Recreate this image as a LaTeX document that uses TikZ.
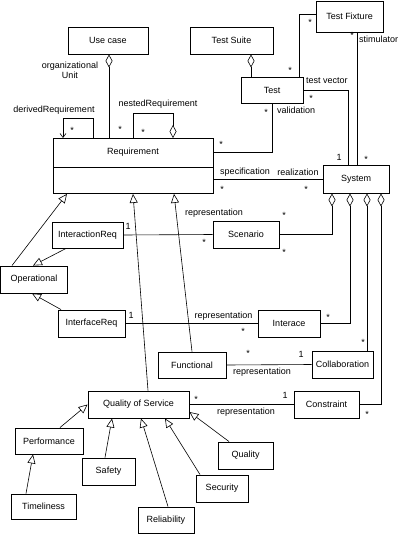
\documentclass[tikz,border=0pt]{standalone}
\usepackage{fontspec}
\setmainfont{Liberation Sans}
\usetikzlibrary{arrows.meta}
\tikzset{
  box/.style={draw, line width=0.9pt, inner sep=0pt, font=\fontsize{9}{10}\selectfont},
  lbl/.style={inner sep=0pt, font=\fontsize{9}{10}\selectfont},
  conn/.style={draw, line width=0.6pt},
  gen/.style={conn, -{Triangle[open, length=9pt, width=8pt]}},
  agg/.style={conn, {Diamond[open, length=13pt, width=7pt]}-},
  der/.style={conn, -{Straight Barb[length=4pt, width=6pt]}}
}
\begin{document}
\begin{tikzpicture}[x=1pt,y=-1pt]
\useasboundingbox (0,0) rectangle (400,534);
% nodes
\node[box, minimum width=80, minimum height=27] (UC) at (108,40.5) {Use case};
\node[box, minimum width=83, minimum height=27] (TS) at (231.5,40.5) {Test Suite};
\node[box, minimum width=67, minimum height=31] (TF) at (349.5,16.5) {Test Fixture};
\node[box, minimum width=62, minimum height=26] (Test) at (272,90) {Test};
\node[box, minimum width=160, minimum height=55, anchor=north west] (Req) at (53,138) {};
\node[lbl] (ReqT) at (133,152.5) {Requirement};
\draw[line width=0.9pt] (Req.west |- 0,167) -- (Req.east |- 0,167);
\node[box, minimum width=66, minimum height=28] (Sys) at (356,179) {System};
\node[box, minimum width=66, minimum height=27] (Scen) at (246,234.5) {Scenario};
\node[box, minimum width=71, minimum height=26] (IR) at (87.5,235) {InteractionReq};
\node[box, minimum width=67, minimum height=27] (Op) at (34,279.5) {Operational};
\node[box, minimum width=67, minimum height=27] (IfR) at (91.5,323.5) {InterfaceReq};
\node[box, minimum width=62, minimum height=27] (Int) at (289,323.5) {Interace};
\node[box, minimum width=68, minimum height=26] (Func) at (192,365) {Functional};
\node[box, minimum width=61, minimum height=27] (Coll) at (342.5,364.5) {Collaboration};
\node[box, minimum width=101, minimum height=27] (QoS) at (138.5,404.5) {Quality of Service};
\node[box, minimum width=65, minimum height=27] (Con) at (326.5,404.5) {Constraint};
\node[box, minimum width=68, minimum height=26] (Perf) at (49,441) {Performance};
\node[box, minimum width=65, minimum height=25] (Time) at (43.5,506.5) {Timeliness};
\node[box, minimum width=53, minimum height=27] (Safe) at (108.5,471.5) {Safety};
\node[box, minimum width=56, minimum height=26] (Rel) at (166,520) {Reliability};
\node[box, minimum width=52, minimum height=27] (Sec) at (222,488.5) {Security};
\node[box, minimum width=55, minimum height=27] (Qual) at (245.5,455.5) {Quality};

% Use case - Requirement
\draw[agg] (109,0 |- UC.south) -- (109,0 |- Req.north);
\node[lbl, align=center] (ou) at (70,70.5) {organizational\\Unit};
\node[lbl] (s1) at (120,129) {*};
% derivedRequirement
\coordinate (d1) at (93,118);
\draw[der] (93,0 |- Req.north) -- (d1) -| (63,0 |- Req.north);
\node[lbl] (dl) at (54,110) {derivedRequirement};
\node[lbl] (s2) at (72,130) {*};
% nestedRequirement
\coordinate (n1) at (133,113);
\draw[agg] (173,0 |- Req.north) |- (n1) -- (133,0 |- Req.north);
\node[lbl] (nl) at (158,104) {nestedRequirement};
\node[lbl] (s3) at (143,132) {*};

% Test Suite - Test
\draw[agg] (251,0 |- TS.south) -- (251,0 |- Test.north);
% Test - Test Fixture
\draw[conn] (299,0 |- Test.north) |- (TF.west |- 0,14);
\node[lbl] (s4) at (290,70) {*};
\node[lbl] (s5) at (310,22) {*};
% Test Fixture - System
\draw[conn] (357,0 |- TF.south) -- (357,0 |- Sys.north);
\node[lbl] (s6) at (352,35) {*};
\node[lbl, anchor=west] (stim) at (359,39) {stimulator};
\node[lbl] (s7) at (366,159) {*};
% test vector
\draw[conn] (Test.east) -| (348,0 |- Sys.north);
\node[lbl, anchor=west] (tv) at (306,81) {test vector};
\node[lbl] (s8) at (311,98) {*};
\node[lbl] (o1) at (339,157) {1};
% validation
\draw[conn] (Test.south) |- (Req.east |- 0,152);
\node[lbl] (s9) at (266,112) {*};
\node[lbl, anchor=west] (val) at (277,110) {validation};
\node[lbl] (s10) at (221,144) {*};
% specification / realization
\draw[conn] (Req.east |- 0,179) -- (Sys.west |- 0,179);
\node[lbl] (spec) at (245,172) {specification};
\node[lbl] (real) at (298,172) {realization};
\node[lbl] (s11) at (222,189) {*};
\node[lbl] (s12) at (306,189) {*};

% Scenario
\draw[agg] (332,0 |- Sys.south) |- (Scen.east);
\node[lbl] (s13) at (284,215) {*};
\node[lbl] (s14) at (284,252) {*};
\draw[conn] (IR.east) -- (Scen.west);
\node[lbl] (o2) at (128,226) {1};
\node[lbl] (rep1) at (214,213) {representation};
\node[lbl] (s15) at (204,242) {*};

% Operational generalizations
\draw[gen] (12,0 |- Op.north) -- (67,0 |- Req.south);
\draw[gen] (66,0 |- IR.south) -- (33,0 |- Op.north);
\draw[gen] (61,0 |- IfR.north) -- (32,0 |- Op.south);

% Interace
\draw[conn] (IfR.east) -- (Int.west);
\node[lbl] (o3) at (131,315) {1};
\node[lbl] (rep2) at (223.5,316) {representation};
\node[lbl] (s16) at (243,331) {*};
\draw[agg] (350,0 |- Sys.south) |- (Int.east);
\node[lbl] (s17) at (328,317) {*};

% Functional / QoS generalizations
\draw[gen] (Func.north) -- (174,0 |- Req.south);
\draw[gen] (148,0 |- QoS.north) -- (133,0 |- Req.south);

% Collaboration
\draw[conn] (Func.east) -- (Coll.west);
\node[lbl] (s18) at (248,353) {*};
\node[lbl] (o4) at (301,354) {1};
\node[lbl] (rep3) at (262,372) {representation};
\draw[agg] (367,0 |- Sys.south) -- (367,0 |- Coll.north);
\node[lbl] (s19) at (363,342) {*};

% Constraint
\draw[agg] (381,0 |- Sys.south) |- (Con.east);
\node[lbl] (s20) at (367,414) {*};
\draw[conn] (QoS.east) -- (Con.west);
\node[lbl] (s21) at (196,399) {*};
\node[lbl] (o5) at (285,395) {1};
\node[lbl] (rep4) at (246,412) {representation};

% QoS generalizations
\draw[gen] (60,0 |- Perf.north) -- (QoS.west);
\draw[gen] (26,0 |- Time.north) -- (33,0 |- Perf.south);
\draw[gen] (105,0 |- Safe.north) -- (112,0 |- QoS.south);
\draw[gen] (168,0 |- Rel.north) -- (141,0 |- QoS.south);
\draw[gen] (200,0 |- Sec.north) -- (165,0 |- QoS.south);
\draw[gen] (229,0 |- Qual.north) -- (QoS.east |- 0,412);
\end{tikzpicture}
\end{document}
